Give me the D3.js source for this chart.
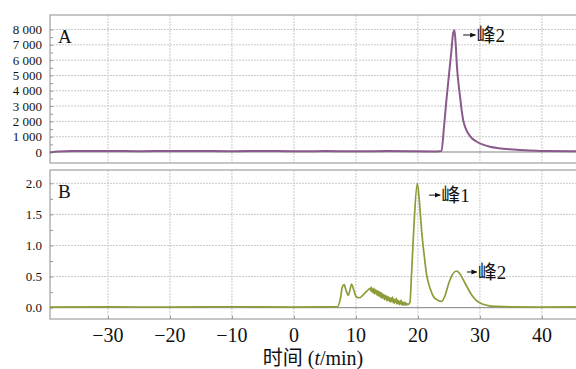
<!DOCTYPE html>
<html>
<head>
<meta charset="utf-8">
<script src="https://cdn.jsdelivr.net/npm/d3@7"></script>
<style>
  body { margin: 0; background: #fff; }
  text { font-family: "Liberation Serif", "Times New Roman", "Noto Sans CJK SC", serif; fill: #111; }
  .cjk { font-family: "Liberation Serif", "Noto Sans CJK SC", serif; }
</style>
</head>
<body>
<div id="chart"></div>
<script>
// x ticks (min)
const xTicks = [-30, -20, -10, 0, 10, 20, 30, 40];
const xTickLabels = ["\u221230", "\u221220", "\u221210", "0", "10", "20", "30", "40"];

// panel A (purple trace)
const aTicks = [0, 1000, 2000, 3000, 4000, 5000, 6000, 7000, 8000];
const aTickLabels = ["0", "1 000", "2 000", "3 000", "4 000", "5 000", "6 000", "7 000", "8 000"];
const tA = [-39.35, -38, -36, -30, -25, -20, -15, -10, -5, 0, 5, 10, 15, 20, 23, 23.8, 24.2, 24.6, 25.0, 25.4, 25.7, 25.9, 26.1, 26.3, 26.55, 26.8, 27.05, 27.3, 27.7, 28.1, 28.7, 29.5, 30.5, 31.6, 33, 34.8, 36, 38, 41, 45.5];
const vA = [-30, 40, 60, 70, 55, 65, 60, 55, 70, 50, 60, 55, 60, 50, 40, 60, 1600, 3400, 5000, 6600, 7800, 7950, 7000, 5550, 4450, 3600, 2750, 2080, 1550, 1220, 900, 670, 480, 345, 250, 175, 140, 100, 60, 50];

// panel B (olive trace)
const bTicks = [0, 0.5, 1.0, 1.5, 2.0];
const bTickLabels = ["0.0", "0.5", "1.0", "1.5", "2.0"];
const tB = [-39.35, -30, -20, -10, 0, 5, 7.0, 7.5, 7.8, 8.1, 8.4, 8.8, 9.0, 9.3, 9.6, 10.1, 10.6, 11.2, 11.8, 12.3,
  12.4, 12.5, 12.6, 12.7, 12.8, 12.9, 13.0, 13.1, 13.2, 13.3, 13.4, 13.5, 13.6, 13.7, 13.8, 13.9,
  14.0, 14.1, 14.2, 14.3, 14.4, 14.5, 14.6, 14.7, 14.8, 14.9, 15.0, 15.1, 15.2, 15.3, 15.4, 15.5, 15.6, 15.7, 15.8, 15.9,
  16.0, 16.1, 16.2, 16.3, 16.4, 16.5, 16.6, 16.7, 16.8, 16.9, 17.0, 17.1, 17.2, 17.3, 17.4, 17.5, 17.6, 17.7, 17.8, 17.9,
  18.0, 18.1, 18.2, 18.3, 18.4,
  18.7, 19.0, 19.4, 19.9, 20.2, 20.6, 21.0, 21.4, 22.0, 22.5, 23.2, 23.8, 24.4, 24.9, 25.6, 26.2, 26.8, 27.3, 28.0, 28.7, 29.5, 30.5, 31.5, 32.7, 35, 40, 45.5];
const vB = [0.01, 0.012, 0.01, 0.015, 0.01, 0.012, 0.015, 0.15, 0.33, 0.37, 0.28, 0.2, 0.27, 0.38, 0.3, 0.17, 0.16, 0.21, 0.27, 0.31,
  0.27, 0.33, 0.25, 0.30, 0.24, 0.31, 0.22, 0.29, 0.23, 0.28, 0.20, 0.27, 0.19, 0.26, 0.18, 0.25,
  0.17, 0.24, 0.15, 0.22, 0.16, 0.21, 0.13, 0.20, 0.14, 0.19, 0.11, 0.18, 0.12, 0.17, 0.10, 0.16, 0.09, 0.15, 0.11, 0.17,
  0.08, 0.14, 0.07, 0.13, 0.09, 0.15, 0.06, 0.12, 0.07, 0.11, 0.05, 0.10, 0.06, 0.12, 0.05, 0.09, 0.04, 0.08, 0.05, 0.09,
  0.04, 0.07, 0.05, 0.06, 0.05,
  0.08, 0.6, 1.4, 2.0, 1.75, 1.23, 0.85, 0.53, 0.3, 0.18, 0.12, 0.1, 0.2, 0.37, 0.54, 0.59, 0.54, 0.45, 0.32, 0.2, 0.11, 0.055, 0.03, 0.02, 0.012, 0.01, 0.012];

const width = 576, height = 369;
const left = 50, right = 576;

let svg = d3.select("#chart").append("svg")
    .attr("width", width)
    .attr("height", height);

let x = d3.scaleLinear().domain([-39.35, 45.5]).range([left, right]);

// the two panels
let panels = [
    { name: "A", top: 15, bottom: 163, y: d3.scaleLinear().domain([-718, 8948]).range([163, 15]),
      ticks: aTicks, labels: aTickLabels, minor: 500, t: tA, v: vA, color: "#8a5a8c", lw: 2,
      notes: [{ t0: 27.3, t1: 29.3, v: 7640, text: "峰2" }] },
    { name: "B", top: 170, bottom: 319, y: d3.scaleLinear().domain([-0.182, 2.214]).range([319, 170]),
      ticks: bTicks, labels: bTickLabels, minor: 0.25, t: tB, v: vB, color: "#8f9a38", lw: 1.7,
      notes: [{ t0: 21.8, t1: 23.6, v: 1.81, text: "峰1" }, { t0: 27.9, t1: 29.5, v: 0.574, text: "峰2" }] }
];

// arrow head
svg.append("defs").append("marker")
    .attr("id", "arrow")
    .attr("viewBox", "0 0 10 10")
    .attr("refX", 9).attr("refY", 5)
    .attr("markerWidth", 6).attr("markerHeight", 6)
    .attr("markerUnits", "userSpaceOnUse")
    .attr("orient", "auto")
    .append("path")
    .attr("d", "M0,1 L10,5 L0,9 Z")
    .attr("fill", "#111");

panels.forEach(function (p) {
    let g = svg.append("g");
    let y = p.y;

    // vertical grid
    g.selectAll(".vgrid")
        .data(xTicks)
        .join("line")
        .attr("x1", d => x(d)).attr("x2", d => x(d))
        .attr("y1", p.top).attr("y2", p.bottom)
        .attr("stroke", "#c8c8c8")
        .attr("stroke-dasharray", "2,1");

    // horizontal grid
    g.selectAll(".hgrid")
        .data(p.ticks.filter(d => d > 0))
        .join("line")
        .attr("x1", left).attr("x2", right)
        .attr("y1", d => y(d)).attr("y2", d => y(d))
        .attr("stroke", "#c8c8c8")
        .attr("stroke-dasharray", "2,1");

    // frame
    g.append("rect")
        .attr("x", left).attr("y", p.top)
        .attr("width", right - left + 2).attr("height", p.bottom - p.top)
        .attr("fill", "none")
        .attr("stroke", "#a0a0a0")
        .attr("stroke-width", 1.2);

    // y axis ticks, major and minor
    let yAxis = g.append("g")
        .attr("transform", `translate(${left},0)`)
        .call(d3.axisRight(y).tickValues(d3.range(0, p.ticks[p.ticks.length - 1] + p.minor / 2, p.minor)).tickSize(3).tickFormat(""));
    yAxis.select(".domain").remove();
    yAxis.selectAll("line").attr("stroke", "#999");

    g.selectAll(".ylab")
        .data(p.ticks)
        .join("text")
        .attr("x", 42)
        .attr("y", d => y(d))
        .attr("dy", "0.35em")
        .attr("text-anchor", "end")
        .style("font-size", "13px")
        .text((d, i) => p.labels[i]);

    // zero line
    g.append("line")
        .attr("x1", left).attr("x2", right)
        .attr("y1", y(0)).attr("y2", y(0))
        .attr("stroke", "#808080")
        .attr("stroke-width", 1);

    // trace
    let line = d3.line()
        .x((d, i) => x(p.t[i]))
        .y(d => y(d))
        .curve(d3.curveMonotoneX);
    g.append("path")
        .datum(p.v)
        .attr("d", line)
        .attr("fill", "none")
        .attr("stroke", p.color)
        .attr("stroke-width", p.lw)
        .attr("stroke-linejoin", "round");

    // panel letter
    g.append("text")
        .attr("x", 58)
        .attr("y", p.top + 28)
        .style("font-size", "19px")
        .text(p.name);

    // peak annotations
    p.notes.forEach(function (n) {
        g.append("line")
            .attr("x1", x(n.t0)).attr("x2", x(n.t1))
            .attr("y1", y(n.v)).attr("y2", y(n.v))
            .attr("stroke", "#111")
            .attr("stroke-width", 1)
            .attr("marker-end", "url(#arrow)");
        g.append("text")
            .attr("class", "cjk")
            .attr("x", x(n.t1) + 1)
            .attr("y", y(n.v) + 7)
            .style("font-size", "19px")
            .text(n.text);
    });
});

// x axis labels under panel B
let xAxis = svg.append("g")
    .attr("transform", `translate(0,319)`)
    .call(d3.axisTop(x).tickValues(xTicks).tickSize(3).tickFormat(""));
xAxis.select(".domain").remove();
xAxis.selectAll("line").attr("stroke", "#999");

svg.selectAll(".xlab")
    .data(xTicks)
    .join("text")
    .attr("x", d => x(d))
    .attr("y", 342)
    .attr("text-anchor", "middle")
    .style("font-size", "20px")
    .text((d, i) => xTickLabels[i]);

// axis title
let title = svg.append("text")
    .attr("class", "cjk")
    .attr("x", 313)
    .attr("y", 365)
    .attr("text-anchor", "middle")
    .style("font-size", "20px");
title.append("tspan").text("时间 (");
title.append("tspan").style("font-style", "italic").text("t");
title.append("tspan").text("/min)");
</script>
</body>
</html>
